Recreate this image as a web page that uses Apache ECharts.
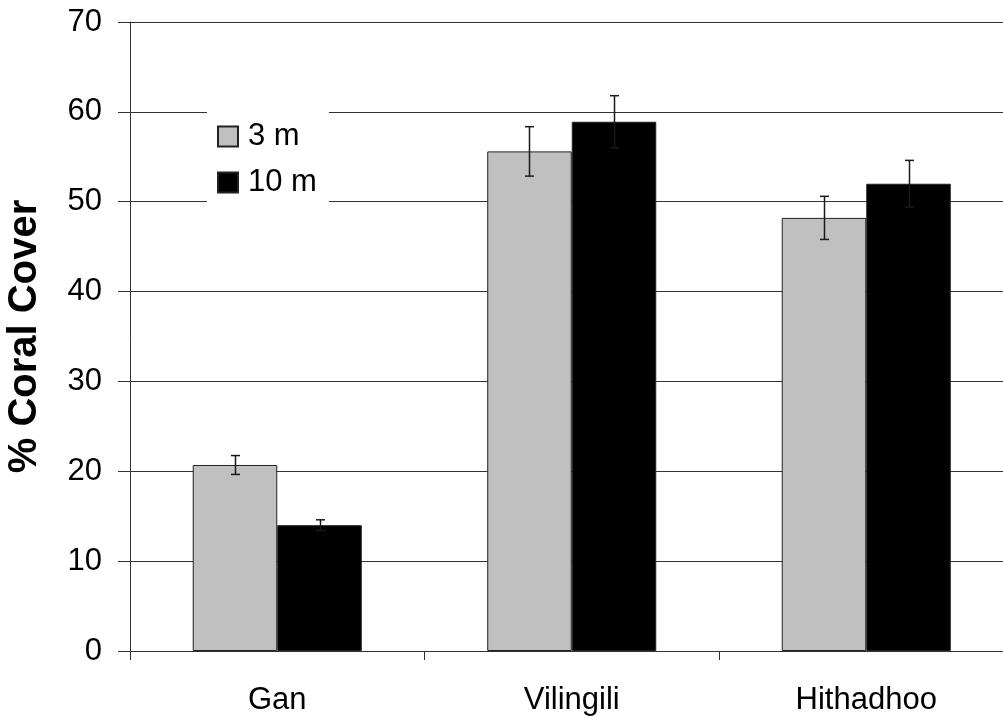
<!DOCTYPE html>
<html>
<head>
<meta charset="utf-8">
<script src="https://cdn.jsdelivr.net/npm/echarts@6/dist/echarts.min.js"></script>
<style>html,body{margin:0;padding:0;background:#fff}#c{width:1003px;height:718px}</style>
</head>
<body>
<div id="c"></div>
<script>
var categories = ['Gan', 'Vilingili', 'Hithadhoo'];
var seriesNames = ['3 m', '10 m'];
var values3m = [20.7, 55.6, 48.2];
var values10m = [14.0, 58.9, 52.0];
var err3m = [1.05, 2.75, 2.4];
var err10m = [0.6, 2.9, 2.6];
var yTicks = [0, 10, 20, 30, 40, 50, 60, 70];

var catGap = 0.426;
var font = 'Liberation Sans, Arial, sans-serif';

function errSeries(vals, errs, sign) {
  return {
    type: 'custom',
    z: 10,
    silent: true,
    data: vals.map(function (v, i) { return [i, v, errs[i]]; }),
    renderItem: function (params, api) {
      var i = api.value(0), v = api.value(1), e = api.value(2);
      var catW = api.size([1, 0])[0];
      var bw = catW * (1 - catGap) / 2;
      var c = api.coord([i, v]);
      var x = Math.round(c[0] + sign * bw / 2) + 0.5;
      var top = api.coord([i, v + e])[1];
      var bot = api.coord([i, v - e])[1];
      var cap = 4.5;
      var st = { stroke: '#1a1a1a', lineWidth: 1.5 };
      return {
        type: 'group',
        children: [
          { type: 'line', shape: { x1: x, y1: top, x2: x, y2: bot }, style: st },
          { type: 'line', shape: { x1: x - cap, y1: top, x2: x + cap, y2: top }, style: st },
          { type: 'line', shape: { x1: x - cap, y1: bot, x2: x + cap, y2: bot }, style: st }
        ]
      };
    }
  };
}

var chart = echarts.init(document.getElementById('c'));
chart.setOption({
  animation: false,
  backgroundColor: '#fff',
  grid: { left: 130, right: -10.5, top: 22, bottom: 67, containLabel: false, outerBoundsMode: 'none' },
  legend: {
    data: seriesNames,
    orient: 'vertical',
    left: 207,
    top: 108,
    padding: [13, 12, 9, 10],
    itemGap: 15,
    itemWidth: 20,
    itemHeight: 20,
    icon: 'rect',
    backgroundColor: '#fff',
    z: 20,
    textStyle: { fontFamily: font, fontSize: 31, color: '#000', padding: [0, 0, 0, 5] }
  },
  xAxis: {
    type: 'category',
    data: categories,
    axisLine: { show: true, lineStyle: { color: '#333', width: 1 } },
    axisTick: { show: true, length: 9, lineStyle: { color: '#333' } },
    axisLabel: { fontFamily: font, fontSize: 31, color: '#000', margin: 34 },
    splitLine: { show: false }
  },
  yAxis: {
    type: 'value',
    min: 0,
    max: 70,
    interval: 10,
    name: '% Coral Cover',
    nameLocation: 'middle',
    nameRotate: 90,
    nameGap: 85,
    nameTextStyle: { fontFamily: font, fontSize: 40, fontWeight: 'bold', color: '#000' },
    axisLine: { show: true, lineStyle: { color: '#333', width: 1 } },
    axisTick: { show: true, length: 12, lineStyle: { color: '#333' } },
    axisLabel: {
      fontFamily: font, fontSize: 31, color: '#000', margin: 28,
      formatter: function (v) { return yTicks.indexOf(v) >= 0 ? String(v) : ''; }
    },
    splitLine: { show: true, lineStyle: { color: '#333', width: 1 } }
  },
  series: [
    {
      name: seriesNames[0], type: 'bar', data: values3m,
      barGap: '0%', barCategoryGap: (catGap * 100) + '%',
      itemStyle: { color: '#c0c0c0', borderColor: '#222', borderWidth: 1 }
    },
    {
      name: seriesNames[1], type: 'bar', data: values10m,
      barGap: '0%', barCategoryGap: (catGap * 100) + '%',
      itemStyle: { color: '#000', borderColor: '#222', borderWidth: 1 }
    },
    errSeries(values3m, err3m, -1),
    errSeries(values10m, err10m, 1)
  ]
});
</script>
</body>
</html>
